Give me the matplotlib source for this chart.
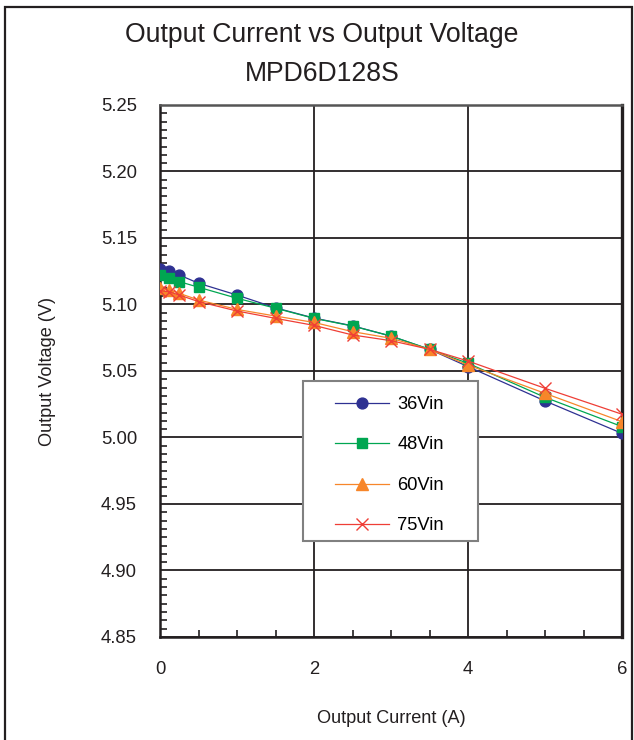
import matplotlib
matplotlib.use("Agg")
import matplotlib.pyplot as plt
from matplotlib.ticker import MultipleLocator, FormatStrFormatter
from matplotlib.patches import Rectangle

plt.rcParams['font.family'] = ['Liberation Sans', 'DejaVu Sans']

current = [0, 0.12, 0.25, 0.5, 1.0, 1.5, 2.0, 2.5, 3.0, 3.5, 4.0, 5.0, 6.0]
v36 = [5.1265, 5.1254, 5.1222, 5.1160, 5.1071, 5.0975, 5.0898, 5.0840, 5.0762, 5.0663, 5.0533, 5.0275, 5.0031]
v48 = [5.1220, 5.1197, 5.1172, 5.1130, 5.1047, 5.0972, 5.0896, 5.0838, 5.0763, 5.0663, 5.0558, 5.0302, 5.0082]
v60 = [5.1122, 5.1110, 5.1084, 5.1034, 5.0963, 5.0913, 5.0865, 5.0796, 5.0746, 5.0663, 5.0545, 5.0332, 5.0119]
v75 = [5.1104, 5.1096, 5.1071, 5.1022, 5.0951, 5.0896, 5.0843, 5.0771, 5.0728, 5.0663, 5.0575, 5.0370, 5.0175]
labels = ['36Vin', '48Vin', '60Vin', '75Vin']

W, H = 634, 740
fig = plt.figure(figsize=(W / 100, H / 100), dpi=100)
fig.patches.append(Rectangle((5/W, -0.05), 627/W, 1.05 - 7/H, transform=fig.transFigure,
                             fill=False, edgecolor='#231f20', linewidth=1.6))

ax_l, ax_r, ax_t, ax_b = 160, 622, 105, 637
ax = fig.add_axes([ax_l/W, 1 - ax_b/H, (ax_r-ax_l)/W, (ax_b-ax_t)/H])

ax.plot(current, v36, color='#2E3192', lw=0.9, marker='o', ms=7.8, label=labels[0], zorder=3)
ax.plot(current, v48, color='#00A651', lw=0.9, marker='s', ms=7.8, label=labels[1], zorder=4)
ax.plot(current, v60, color='#F7862A', lw=0.9, marker='^', ms=9.2, label=labels[2], zorder=5)
ax.plot(current, v75, color='#EF3E36', lw=0.9, marker='x', ms=9.2, mew=1.0, label=labels[3], zorder=6)

ax.set_xlim(0, 6)
ax.set_ylim(4.85, 5.25)
ax.xaxis.set_major_locator(MultipleLocator(2))
ax.xaxis.set_minor_locator(MultipleLocator(0.5))
ax.yaxis.set_major_locator(MultipleLocator(0.05))
ax.yaxis.set_minor_locator(MultipleLocator(0.05 / 8))
ax.yaxis.set_major_formatter(FormatStrFormatter('%.2f'))
ax.grid(True, which='major', color='#231f20', lw=1.3)
ax.tick_params(which='major', length=0, labelsize=13.3, colors='#231f20')
ax.tick_params(axis='x', which='major', pad=17.5)
ax.tick_params(axis='y', which='major', pad=16.5)
ax.tick_params(which='minor', direction='in', length=5, width=1.2, color='#231f20')
for s in ax.spines.values():
    s.set_color('#231f20')
    s.set_linewidth(1.8)
ax.spines['right'].set_linewidth(2.4)
ax.spines['top'].set_color('#555555')

ax.set_xlabel('Output Current (A)', fontsize=13.1, labelpad=22.5, color='#231f20')
ax.set_ylabel('Output Voltage (V)', fontsize=13.1, labelpad=32, color='#231f20')

fig.text(322/W, 1 - 35/H, 'Output Current vs Output Voltage', ha='center', va='center', fontsize=19.2, color='#231f20')
fig.text(322/W, 1 - 74/H, 'MPD6D128S', ha='center', va='center', fontsize=19.2, color='#231f20')

# legend frame
lx0, lx1, ly0, ly1 = 303, 478, 381, 541
def ax_x(px):
    return (px - ax_l) / (ax_r - ax_l)
def ax_y(py):
    return (ax_b - py) / (ax_b - ax_t)
ax.add_patch(Rectangle((ax_x(lx0), ax_y(ly1)), ax_x(lx1) - ax_x(lx0), ax_y(ly0) - ax_y(ly1),
                       transform=ax.transAxes, facecolor='white', edgecolor='#808080',
                       linewidth=1.5, zorder=9, clip_on=False))
leg = ax.legend(loc='upper left', bbox_to_anchor=(ax_x(335), ax_y(396)),
                fontsize=13.2, frameon=False, handlelength=2.95,
                handletextpad=0.44, labelspacing=1.28, borderpad=0, borderaxespad=0)
leg.set_zorder(10)

fig.savefig('out.png', dpi=100)
